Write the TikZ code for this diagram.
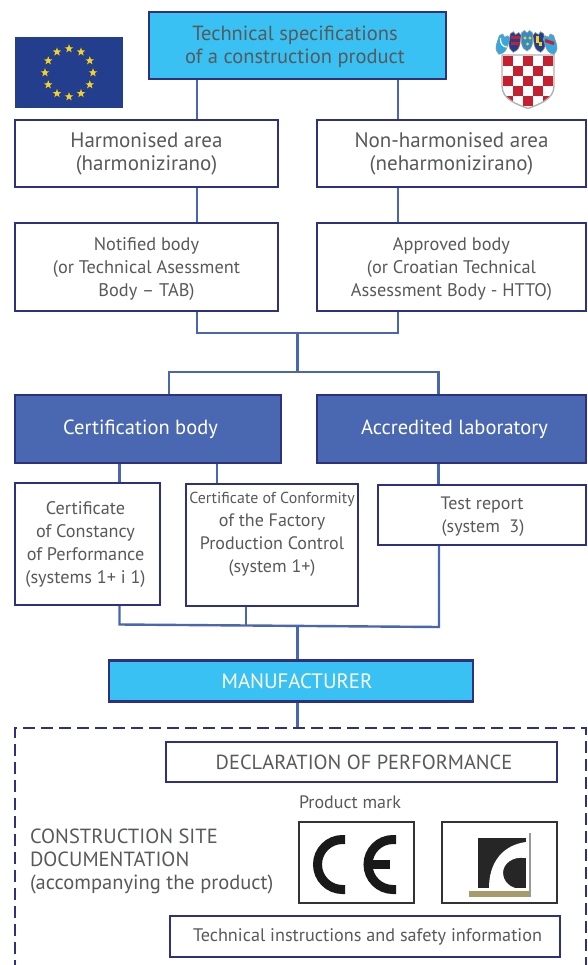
\documentclass[tikz,border=0pt]{standalone}
\usepackage{fontspec}
\setmainfont{PT Sans}
\usetikzlibrary{shapes.geometric,backgrounds,calc}
\definecolor{navy}{HTML}{2E3180}
\definecolor{linkblue}{HTML}{4A66B0}
\definecolor{skyfill}{HTML}{38C1F2}
\definecolor{bodyblue}{HTML}{4A67B1}
\definecolor{flagblue}{HTML}{233E8C}
\definecolor{txt}{HTML}{58595B}
\definecolor{starcol}{HTML}{F5D21F}
\definecolor{olive}{HTML}{A79B6B}
\definecolor{chred}{HTML}{C4202F}
\tikzset{
 x=1pt,y=-1pt,
 box/.style={draw=navy,line width=2.8pt,fill=white,text=txt,inner sep=0pt,outer sep=0pt},
 skybox/.style={box,fill=skyfill},
 bluebox/.style={box,fill=bodyblue,text=white},
 thinbox/.style={box,line width=1.8pt},
 markbox/.style={draw=black!80,line width=1.4pt,fill=white,inner sep=0pt,outer sep=0pt},
 link/.style={draw=linkblue,line width=2.4pt},
 plain/.style={text=txt,inner sep=0pt,outer sep=0pt},
 eustar/.style={star,star points=5,star point ratio=2.5,fill=starcol,inner sep=0pt,minimum size=9pt},
}
\newcommand{\fs}[2]{\fontsize{#1}{#2}\selectfont}
\newcommand{\mv}[2]{\raisebox{-#1pt}[\height][\depth]{\begin{tabular}{@{}c@{}}#2\end{tabular}}}
\begin{document}
\begin{tikzpicture}
\useasboundingbox (0,0) rectangle (587,965);
\clip (0,0) rectangle (587,965);
% main boxes
\node[skybox,minimum width=297pt,minimum height=67pt,font=\fs{20.5}{23}] (top) at (297.5,45.5) {\mv{1.5}{Technical specifications\\of a construction product}\hspace*{5pt}};
\node[box,minimum width=263pt,minimum height=67pt,font=\fs{21}{23}] (harm) at (146.5,153.5) {\mv{1}{Harmonised area\\(harmonizirano)}};
\node[box,minimum width=269pt,minimum height=67pt,font=\fs{21}{23}] (non) at (451.5,153.5) {\mv{1}{Non-harmonised area\\(neharmonizirano)}};
\node[box,minimum width=263pt,minimum height=88pt,font=\fs{18.3}{23}] (notif) at (146.5,267) {\mv{2}{Notified body\\(or Technical Asessment\\Body – TAB)}};
\node[box,minimum width=269pt,minimum height=88pt,font=\fs{18.3}{23}] (appr) at (451.5,267) {\mv{2}{Approved body\\(or Croatian Technical\\Assessment Body - HTTO)}};
\node[bluebox,minimum width=266pt,minimum height=68pt,font=\fs{20.5}{23}] (cert) at (148,429) {Certification body\hspace*{15pt}};
\node[bluebox,minimum width=269pt,minimum height=68pt,font=\fs{20.5}{23}] (lab) at (451.5,429) {\hspace*{6pt}Accredited laboratory};
\node[box,minimum width=145pt,minimum height=122pt,font=\fs{18.2}{23}] (cop) at (87.5,544) {\mv{0.5}{Certificate\\of Constancy\\of Performance\\(systems 1+ i 1)}\hspace*{4pt}};
\node[box,minimum width=172pt,minimum height=122pt,font=\fs{18}{23}] (fpc) at (272,545) {\mv{-12}{\fs{15.9}{23}Certificate of Conformity\\of the Factory\\Production Control\\(system 1+)}};
\node[box,minimum width=208pt,minimum height=60pt,font=\fs{18}{23}] (test) at (482,515) {\mv{1}{Test report\\\hspace*{2pt}(system~~3)}};
\node[skybox,text=white,minimum width=364pt,minimum height=41pt,font=\fs{20.8}{23}] (manu) at (291,681) {\hspace*{12pt}MANUFACTURER};
% dashed frame
\coordinate (fa) at (15,990);
\coordinate (fb) at (15,728);
\coordinate (fc) at (586,728);
\coordinate (fd) at (586,990);
\draw[draw=navy,line width=1.8pt,dash pattern=on 12pt off 6pt] (fa) -- (fb) -- (fc) -- (fd);
\node[box,line width=2.4pt,minimum width=391pt,minimum height=40pt,font=\fs{20.4}{23}] (dop) at (361.5,762) {\hspace*{5pt}DECLARATION OF PERFORMANCE};
\node[plain,anchor=west,font=\fs{18}{23}] (pm) at (299,802) {Product mark};
\node[plain,anchor=west,align=left,font=\fs{20.5}{23}] (site) at (30,861.5) {CONSTRUCTION SITE\\DOCUMENTATION\\(accompanying the product)};
\node[markbox,minimum width=115pt,minimum height=81pt] (ce) at (356.5,862.5) {};
\node[markbox,minimum width=115pt,minimum height=81pt] (rd) at (499.5,862.5) {};
\node[thinbox,minimum width=390pt,minimum height=41pt,font=\fs{18.2}{23}] (tech) at (365,936.5) {\hspace*{5pt}Technical instructions and safety information};
% connectors
\coordinate (xa) at (197,0);
\coordinate (xb) at (398,0);
\coordinate (xc) at (297.5,0);
\coordinate (xd) at (169,0);
\coordinate (xe) at (438.5,0);
\coordinate (xf) at (119.5,0);
\coordinate (xg) at (217,0);
\coordinate (xh) at (246,0);
\coordinate (ja) at (197,333);
\coordinate (jb) at (398,333);
\coordinate (jc) at (297.5,333);
\coordinate (jd) at (169,372);
\coordinate (je) at (438.5,372);
\coordinate (jf) at (297.5,372);
\coordinate (jg) at (119.5,624.5);
\coordinate (jh) at (439,627);
\coordinate (ji) at (297.5,626.2);
\coordinate (jj) at (246,625.8);
\begin{scope}[on background layer]
\path[link] (top.south -| xa) -- (harm.north -| xa);
\path[link] (top.south -| xb) -- (non.north -| xb);
\path[link] (harm.south -| xa) -- (notif.north -| xa);
\path[link] (non.south -| xb) -- (appr.north -| xb);
\path[link] (notif.south -| xa) -- (ja) -- (jb) -- (appr.south -| xb);
\path[link] (jc) -- (jf);
\path[link] (cert.north -| xd) -- (jd) -- (je) -- (lab.north -| xe);
\path[link] (cert.south -| xf) -- (cop.north -| xf);
\path[link] (cert.south -| xg) -- (fpc.north -| xg);
\path[link] (lab.south -| xe) -- (test.north -| xe);
\path[link] (cop.south -| xf) -- (jg) -- (jh) -- (test.south -| jh);
\path[link] (fpc.south -| xh) -- (jj);
\path[link] (ji) -- (manu.north -| ji);
\path[link] (manu.south -| ji) -- (fc -| ji);
\end{scope}
% EU flag
\fill[flagblue] (15,37) rectangle (123,108);
\foreach \a in {0,30,...,330}
  \node[eustar] (s\a) at ($(69,72.7)+(\a:24pt)$) {};
% Croatian arms
\newcommand{\shieldpath}{(502,55) -- (554,55) -- (554,86) .. controls (554,99) and (540,104) .. (528,108.5) .. controls (516,104) and (502,99) .. (502,86) -- cycle}
\fill[white] \shieldpath;
\begin{scope}
\clip \shieldpath;
\foreach \r in {0,...,4}\foreach \c in {0,...,4}{
  \pgfmathtruncatemacro{\m}{mod(\r+\c,2)}
  \ifnum\m=0 \fill[chred] ({503+\c*10},{56+\r*10}) rectangle ++(10,10);\fi
}
\end{scope}
\draw[black!30,line width=1.4pt] \shieldpath;
\foreach \px/\py/\rot/\col in {503/42/-18/skyfill!80!flagblue,515/39.5/-8/flagblue,527/38/0/skyfill!60!flagblue,539/39.5/8/flagblue,550/42/18/skyfill!80!flagblue}{
  \begin{scope}[shift={(\px,\py)},rotate=\rot]
   \fill[\col,draw=black!40,line width=.6pt] (-5.5,-5) -- (-2.7,-7.5) -- (0,-5) -- (2.7,-7.5) -- (5.5,-5) -- (5.5,5) .. controls (5,10) and (2,12) .. (0,13) .. controls (-2,12) and (-5,10) .. (-5.5,5) -- cycle;
  \end{scope}
}
\draw[white,line width=1.2pt] (500.5,38) .. controls (500,44) and (503,47) .. (507,47);
\fill[chred] (510.5,36) rectangle (520,39);
\fill[chred] (510.5,42) rectangle (520,45);
\fill[starcol] (525,38) circle[radius=1.6pt];
\fill[starcol] (530,38) circle[radius=1.6pt];
\fill[starcol] (527.5,44) circle[radius=1.6pt];
\fill[starcol] (539,42) rectangle (542,46);
\fill[starcol] (536,36) rectangle (539,43);
\fill[chred] (545.5,39) -- (554.5,42) -- (553.5,45) -- (544.5,42) -- cycle;
% CE mark
\draw[black!90,line width=9pt] (345,839.5) -- (342.5,839.5) arc[start angle=90,end angle=270,radius=25pt] -- (345,889.5);
\draw[black!90,line width=9pt] (396,839.5) -- (393,839.5) arc[start angle=90,end angle=270,radius=25pt] -- (396,889.5);
\draw[black!90,line width=9pt] (372,864.5) -- (390,864.5);
% technical assessment mark
\fill[black!85] (478,838) rectangle (526,888);
\fill[white] (489,888) .. controls (489,862) and (503,845) .. (526,842) -- (526,858) .. controls (512,856) and (503,864) .. (503,873) .. controls (503,880) and (508,886) .. (515,888) -- cycle;
\fill[olive] (469,891) rectangle (530,897);
\fill[black!40] (529,833) rectangle (531,897);
\end{tikzpicture}
\end{document}
